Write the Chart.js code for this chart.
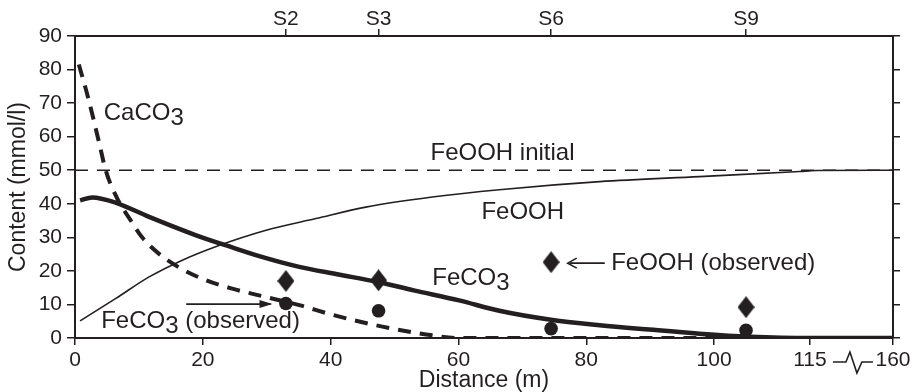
<!DOCTYPE html>
<html>
<head>
<meta charset="utf-8">
<script src="https://cdn.jsdelivr.net/npm/chart.js@4.4.1/dist/chart.umd.min.js"></script>
<style>
  html, body { margin: 0; padding: 0; background: #fff; }
  #wrap { width: 914px; height: 392px; }
</style>
</head>
<body>
<div id="wrap"><canvas id="chart"></canvas></div>
<script>
const ink = '#231f20';
const fontFamily = '"Liberation Sans", Arial, Helvetica, sans-serif';

// x axis: 0..115 linear, then a break; the last tick (plotted at 128) stands for 160
const xTickValues = [0, 20, 40, 60, 80, 100, 115, 128];
const xTickLabels = ['0', '20', '40', '60', '80', '100', '115', '160'];

// sampling stations (top axis) and observations
const stationX = [33, 47.5, 74.5, 105];
const stationLabels = ['S2', 'S3', 'S6', 'S9'];
const feoohObserved = [17, 17.2, 22.6, 9.2];
const feco3Observed = [10.3, 8.1, 2.8, 2.3];

// modelled curves
const caco3X = [0.6, 2, 3.8, 4.8, 6.5, 8.9, 10.5, 13.2, 16.3, 20.5, 24.6, 29.9, 35.1, 40.3, 48.1, 55.9, 60, 80, 100, 128];
const caco3Y = [81.5, 72, 58, 50, 42, 34.5, 30, 25, 21, 17.2, 14.7, 12.2, 9.8, 6.9, 3.4, 0.8, 0, 0, 0, 0];

const feco3X = [0.8, 2.7, 6.4, 11.6, 19.4, 24.6, 29.9, 35.1, 41, 47.6, 53, 60.1, 66.4, 74.2, 82.1, 89.9, 97.7, 105.6, 115, 128];
const feco3Y = [41, 41.9, 40.3, 36.1, 30.3, 27, 23.8, 21.2, 19, 16.6, 14.2, 11.2, 8.1, 5.5, 3.8, 2.5, 1.3, 0.4, 0, 0];

const feoohX = [0.8, 6.4, 11.6, 16.8, 22, 29.9, 37.7, 45.5, 55.9, 66.4, 82.1, 97.7, 113.4, 116, 128];
const feoohY = [5.1, 11.8, 18.2, 23.2, 27.2, 32.1, 35.6, 39, 42, 44.2, 46.6, 48.1, 49.6, 49.9, 50];

const feoohInitialX = [0, 128];
const feoohInitialY = [50, 50];

const toPoints = (xs, ys) => xs.map((x, i) => ({ x, y: ys[i] }));

// label annotations (data coordinates)
const notes = [
  { text: 'CaCO', sub: '3', x: 4.5, y: 65 },
  { text: 'FeOOH initial', x: 66.9, y: 53.0, center: true },
  { text: 'FeOOH', x: 63.6, y: 35.4 },
  { text: 'FeCO', sub: '3', x: 55.9, y: 15.7 },
  { text: 'FeOOH (observed)', x: 83.9, y: 20.2 },
  { text: 'FeCO', sub: '3', after: ' (observed)', x: 4.1, y: 2.9 }
];
const arrows = [
  { from: [82.9, 22.3], to: [77.1, 22.3], head: 'open' },
  { from: [17.4, 10.1], to: [30.9, 10.1], head: 'filled' }
];

function diamondStyle(w, h) {
  const c = document.createElement('canvas');
  c.width = w; c.height = h;
  const g = c.getContext('2d');
  g.fillStyle = ink;
  g.beginPath();
  g.moveTo(w / 2, 0);
  g.lineTo(w, h / 2);
  g.lineTo(w / 2, h);
  g.lineTo(0, h / 2);
  g.closePath();
  g.fill();
  return c;
}

const annotationPlugin = {
  id: 'notes',
  afterDatasetsDraw(chart) {
    const { ctx, scales } = chart;
    const sx = scales.x, sy = scales.y;
    ctx.save();
    ctx.fillStyle = ink;
    ctx.strokeStyle = ink;
    ctx.font = '24px ' + fontFamily;
    ctx.textBaseline = 'alphabetic';
    ctx.textAlign = 'left';
    notes.forEach((n) => {
      let px = sx.getPixelForValue(n.x);
      const py = sy.getPixelForValue(n.y);
      const full = n.text + (n.sub || '') + (n.after || '');
      if (n.center) px -= ctx.measureText(full).width / 2;
      ctx.fillText(n.text, px, py);
      px += ctx.measureText(n.text).width;
      if (n.sub) {
        ctx.fillText(n.sub, px, py + 5);
        px += ctx.measureText(n.sub).width;
      }
      if (n.after) ctx.fillText(n.after, px, py);
    });
    ctx.lineWidth = 1.6;
    arrows.forEach((a) => {
      const x1 = sx.getPixelForValue(a.from[0]), y1 = sy.getPixelForValue(a.from[1]);
      const x2 = sx.getPixelForValue(a.to[0]), y2 = sy.getPixelForValue(a.to[1]);
      const dir = Math.sign(x2 - x1);
      ctx.beginPath();
      ctx.moveTo(x1, y1);
      ctx.lineTo(x2 - dir * 2, y2);
      ctx.stroke();
      ctx.beginPath();
      if (a.head === 'open') {
        ctx.moveTo(x2 - dir * 9, y2 - 5);
        ctx.lineTo(x2, y2);
        ctx.lineTo(x2 - dir * 9, y2 + 5);
        ctx.stroke();
      } else {
        ctx.moveTo(x2 - dir * 13, y2 - 4);
        ctx.lineTo(x2, y2);
        ctx.lineTo(x2 - dir * 13, y2 + 4);
        ctx.closePath();
        ctx.fill();
      }
    });
    ctx.restore();
  },
  afterDraw(chart) {
    // axis break mark between 115 and 160
    const { ctx, scales } = chart;
    const sx = scales.x;
    const a = sx.getPixelForValue(115) + 23;
    const y = sx.top + 24;
    ctx.save();
    ctx.strokeStyle = ink;
    ctx.lineWidth = 1.6;
    ctx.beginPath();
    ctx.moveTo(a, y);
    ctx.lineTo(a + 13, y);
    ctx.lineTo(a + 17, y - 10);
    ctx.lineTo(a + 24, y + 11);
    ctx.lineTo(a + 29, y);
    ctx.lineTo(a + 40, y);
    ctx.stroke();
    ctx.restore();
  }
};

const tickFont = { family: fontFamily, size: 21 };
const axisGrid = { drawOnChartArea: false, drawTicks: true, color: ink, lineWidth: 1.5 };

new Chart(document.getElementById('chart'), {
  type: 'scatter',
  data: {
    datasets: [
      {
        label: 'FeOOH (observed)',
        data: toPoints(stationX, feoohObserved),
        pointStyle: diamondStyle(17, 22),
        pointRadius: 8,
        showLine: false
      },
      {
        label: 'FeCO3 (observed)',
        data: toPoints(stationX, feco3Observed),
        pointStyle: 'circle',
        pointRadius: 6.8,
        backgroundColor: ink,
        borderColor: ink,
        borderWidth: 0,
        showLine: false
      },
      {
        label: 'FeCO3',
        data: toPoints(feco3X, feco3Y),
        showLine: true,
        borderColor: ink,
        borderWidth: 4.5,
        pointRadius: 0,
        cubicInterpolationMode: 'monotone'
      },
      {
        label: 'CaCO3',
        data: toPoints(caco3X, caco3Y),
        showLine: true,
        borderColor: ink,
        borderWidth: 4,
        borderDash: [13, 9],
        pointRadius: 0,
        cubicInterpolationMode: 'monotone'
      },
      {
        label: 'FeOOH',
        data: toPoints(feoohX, feoohY),
        showLine: true,
        borderColor: ink,
        borderWidth: 1.6,
        pointRadius: 0,
        cubicInterpolationMode: 'monotone'
      },
      {
        label: 'FeOOH initial',
        data: toPoints(feoohInitialX, feoohInitialY),
        showLine: true,
        borderColor: ink,
        borderWidth: 1.6,
        borderDash: [13, 9],
        pointRadius: 0
      }
    ]
  },
  options: {
    responsive: true,
    maintainAspectRatio: false,
    animation: false,
    layout: { padding: 0 },
    plugins: {
      legend: { display: false },
      tooltip: { enabled: false }
    },
    scales: {
      x: {
        type: 'linear',
        position: 'bottom',
        min: 0,
        max: 128,
        afterBuildTicks: (s) => { s.ticks = xTickValues.map((v) => ({ value: v })); },
        afterFit: (s) => { s.height = 54; },
        ticks: {
          autoSkip: false,
          maxRotation: 0,
          color: ink,
          font: tickFont,
          padding: 3,
          callback: (v, i) => xTickLabels[i]
        },
        grid: { ...axisGrid, tickLength: 7 },
        border: { color: ink, width: 2 },
        title: {
          display: true,
          text: 'Distance (m)',
          color: ink,
          font: { family: fontFamily, size: 23, lineHeight: 1 },
          padding: 0
        }
      },
      xTop: {
        type: 'linear',
        position: 'top',
        min: 0,
        max: 128,
        afterBuildTicks: (s) => { s.ticks = stationX.map((v) => ({ value: v })); },
        afterFit: (s) => { s.height = 36; },
        ticks: {
          autoSkip: false,
          maxRotation: 0,
          color: ink,
          font: tickFont,
          padding: -3,
          callback: (v, i) => stationLabels[i]
        },
        grid: { ...axisGrid, tickLength: 7 },
        border: { color: ink, width: 2 }
      },
      y: {
        type: 'linear',
        position: 'left',
        min: 0,
        max: 90,
        afterFit: (s) => { s.width = 75; },
        ticks: { stepSize: 10, color: ink, font: tickFont, padding: 5 },
        grid: { ...axisGrid, tickLength: 8 },
        border: { color: ink, width: 2 },
        title: {
          display: true,
          text: 'Content (mmol/l)',
          color: ink,
          font: { family: fontFamily, size: 23, lineHeight: 1 },
          padding: { top: 7, bottom: 0 }
        }
      },
      yRight: {
        type: 'linear',
        position: 'right',
        min: 0,
        max: 90,
        afterFit: (s) => { s.width = 21; },
        ticks: { stepSize: 10, display: false },
        grid: { ...axisGrid, tickLength: 7 },
        border: { color: ink, width: 2 }
      }
    }
  },
  plugins: [annotationPlugin]
});
</script>
</body>
</html>
